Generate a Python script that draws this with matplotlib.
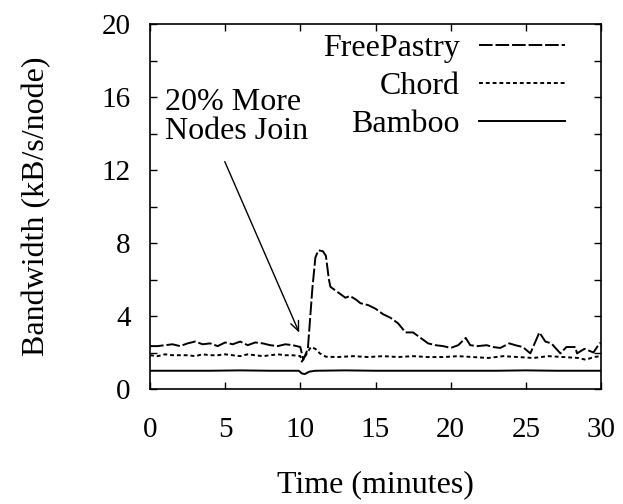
import matplotlib
matplotlib.use("Agg")
import matplotlib.pyplot as plt
from matplotlib import font_manager as fm

plt.rcParams['font.family'] = 'serif'
plt.rcParams['font.serif'] = ['Liberation Serif', 'DejaVu Serif']
SERIF_PATH = fm.findfont(fm.FontProperties(family='Liberation Serif'))


def fp(size):
    return fm.FontProperties(fname=SERIF_PATH, size=size)


# FreePastry
fp_t = [0, 0.5, 1.0, 1.5, 2.0, 2.5, 3.0, 3.5, 4.0, 4.5, 5.0, 5.5, 6.0, 6.5, 7.0, 7.5,
        8.0, 8.5, 9.0, 9.5, 10.0, 10.2, 10.5, 10.8, 11.0, 11.2, 11.5, 11.7, 11.9, 12.0,
        12.5, 13.0, 13.3, 13.7, 14.0, 14.5, 15.0, 15.5, 16.0, 16.5, 17.0, 17.5, 18.0,
        18.5, 19.0, 19.5, 20.0, 20.5, 21.0, 21.3, 21.8, 22.4, 22.8, 23.3, 23.9, 24.3,
        24.8, 25.3, 25.9, 26.3, 26.7, 27.3, 27.7, 28.3, 28.4, 28.9, 29.5, 29.9, 30.0]
fp_v = [2.35, 2.35, 2.4, 2.45, 2.35, 2.5, 2.6, 2.45, 2.5, 2.35, 2.55, 2.45, 2.6, 2.4, 2.55, 2.5,
        2.4, 2.35, 2.45, 2.4, 2.3, 1.6, 2.2, 5.5, 7.2, 7.6, 7.55, 7.3, 6.0, 5.6,
        5.3, 5.0, 5.1, 4.9, 4.7, 4.6, 4.4, 4.1, 3.9, 3.6, 3.1, 3.1, 2.8,
        2.5, 2.4, 2.35, 2.25, 2.4, 2.8, 2.4, 2.35, 2.4, 2.3, 2.25, 2.5, 2.4,
        2.3, 1.95, 3.1, 2.6, 2.5, 1.95, 2.3, 2.3, 1.95, 2.2, 2.0, 2.5, 2.5]

# Chord
ch_t = [0, 0.5, 1.0, 1.5, 2.0, 2.5, 3.0, 3.5, 4.0, 4.5, 5.0, 5.5, 6.0, 6.5, 7.0, 7.5,
        8.0, 8.5, 9.0, 9.5, 10.0, 10.1, 10.4, 10.7, 11.0, 11.3, 11.7, 12.5, 13.5, 14.5,
        15.5, 16.5, 17.5, 18.5, 19.5, 20.5, 21.5, 22.5, 23.5, 24.5, 25.5, 26.5, 27.5,
        28.5, 29.0, 29.5, 30.0]
ch_v = [1.85, 1.8, 1.9, 1.85, 1.85, 1.85, 1.8, 1.9, 1.85, 1.85, 1.9, 1.85, 1.8, 1.9, 1.85, 1.8,
        1.85, 1.9, 1.85, 1.85, 1.8, 1.5, 1.9, 2.3, 2.2, 1.95, 1.77, 1.75, 1.8, 1.75,
        1.8, 1.75, 1.8, 1.75, 1.75, 1.8, 1.75, 1.7, 1.8, 1.75, 1.7, 1.8, 1.75,
        1.7, 1.6, 1.75, 1.8]

# Bamboo
bb_t = [0, 2.0, 4.0, 6.0, 8.0, 9.9, 10.1, 10.3, 10.6, 11.0, 13.0, 15.0, 17.0, 19.0,
        21.0, 23.0, 25.0, 27.0, 29.0, 30.0]
bb_v = [1.0, 1.0, 1.0, 1.02, 1.0, 1.0, 0.85, 0.82, 0.95, 1.0, 1.02, 1.0, 1.0, 1.0,
        1.0, 1.0, 1.02, 1.0, 1.0, 1.0]

x_ticks = [0, 5, 10, 15, 20, 25, 30]
y_ticks = [0, 4, 8, 12, 16, 20]
y_minor = [2, 6, 10, 14, 18]

fig = plt.figure(figsize=(6.23, 5.04), dpi=100)
ax = fig.add_axes([150/623, 1 - 389/504, 451/623, 365/504])

lw = 1.4
ax.plot(fp_t, fp_v, color='black', lw=lw, linestyle=(0, (7, 1.5)), label='FreePastry')
ax.plot(ch_t, ch_v, color='black', lw=lw, linestyle=(0, (2, 1.5)), label='Chord')
ax.plot(bb_t, bb_v, color='black', lw=lw, linestyle='-', label='Bamboo')

ax.set_xlim(0, 30)
ax.set_ylim(0, 20)
ax.set_xticks(x_ticks)
ax.set_yticks(y_ticks)
ax.set_yticks(y_minor, minor=True)
ax.set_xticklabels([str(v) for v in x_ticks], fontproperties=fp(21))
ax.set_yticklabels([str(v) for v in y_ticks], fontproperties=fp(21))
ax.tick_params(which='both', direction='in', top=True, right=True, length=5, width=1)
ax.tick_params(axis='x', pad=20)
ax.tick_params(axis='y', pad=14)
for s in ax.spines.values():
    s.set_linewidth(1.2)

ax.set_xlabel('Time (minutes)', fontproperties=fp(23), labelpad=20)
ax.set_ylabel('Bandwidth (kB/s/node)', fontproperties=fp(23), labelpad=36)

ax.text(1.0, 16.5, '20% More\nNodes Join', fontproperties=fp(23), ha='left', va='top',
        linespacing=1.0)
ax.annotate('', xy=(10.0, 2.95), xytext=(4.9, 12.6),
            arrowprops=dict(arrowstyle='->,head_length=0.7,head_width=0.3', color='black', lw=1))

leg = ax.legend(loc='upper right', bbox_to_anchor=(565/623, 1 - 34/504),
                bbox_transform=fig.transFigure, frameon=False, markerfirst=False,
                prop=fp(23), handlelength=2.7, handletextpad=0.6,
                labelspacing=0.27, borderpad=0, borderaxespad=0)

fig.savefig('out.png', dpi=100)
